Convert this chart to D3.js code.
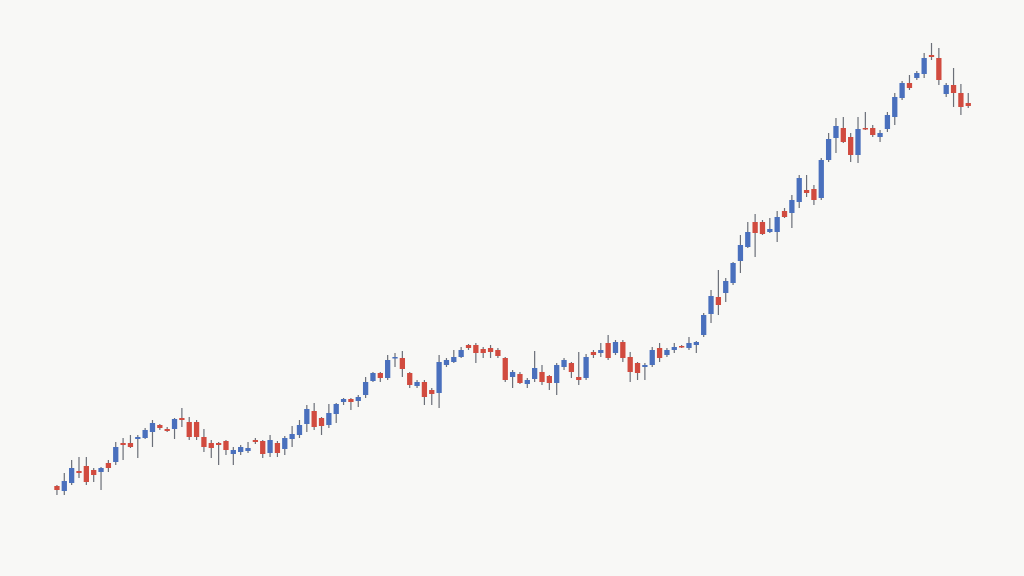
<!DOCTYPE html>
<html><head><meta charset="utf-8">
<script src="https://cdn.jsdelivr.net/npm/d3@7"></script>
<style>html,body{margin:0;padding:0;background:#f8f8f6;}svg{display:block;}</style>
</head><body>
<svg id="chart" width="1024" height="576"></svg>
<script>
const opens  = [37,34.5,38.5,44.5,47,45,44,48.5,49,58.5,58.5,60.5,61,64,67.5,65.5,65.5,71,69,69,61.5,58.5,58.5,59.5,53,54,54.5,60,59.5,53.5,58.5,55.5,60.5,62.5,68,74.5,71,67.5,73,79,80.5,79.5,82.5,89.5,93.5,91,101,101,93.5,87,89,85,83.5,97.5,99,101.5,107.5,107.5,105.5,106,105,101,91.5,93,88,90.5,94,92,88.5,96.5,98.5,91.5,91,104,103.5,108.5,103.5,109,101.5,98.5,96.5,97.5,106,102.5,105,107,106,107.5,112.5,123,131.5,133.5,138.5,149.5,156.5,169,169,164,164,174.5,173.5,179,185,185.5,181,200,211,216,211.5,202.5,216,216,211.5,215.5,221.5,231,238.5,241,243,252.5,251,233,237.5,233.5,228.5];
const closes = [35,39.5,46,43.5,39,42.5,46,46,56.5,57.5,56.5,61.5,65,68.5,66,64.5,70.5,70,61.5,61.5,56.5,56,57.5,55,55,56.5,56,59,53,60,53.5,61,63,67.5,75.5,66.5,67,73.5,78,80.5,79,81.5,89,93.5,91,100,101.5,95.5,87.5,89,81.5,83,99,100,101.5,105,106,103.5,103.5,104,102,90,94,88.5,90,96,89,88.5,97.5,100,94,90,101.5,102.5,105,101,109,101,94,93.5,97.5,105,101,105,106.5,106.5,108.5,109,122.5,132,127.5,139.5,148.5,157.5,164,163.5,163,165.5,171.5,171.5,180,191,183.5,180,200,210.5,217,209,202.5,215.5,215.5,212.5,213.5,222.5,231.5,238.5,236,243.5,251,251.5,240,237.5,233.5,226.5,227];
const highs  = [37.5,43.5,50,51.5,51.5,46,46.5,50,59,61,62.5,62.5,66,70,68,66.5,71,76,71.5,70,65.5,60,59,60,56.5,57.5,59,61,60,62.5,59.5,62,67,70,77.5,78.5,71.5,78,78.5,81,81,82.5,91.5,94,94,102.5,103.5,104.5,94,90,90,86,102.5,101,105,106.5,108,108.5,106.5,107.5,106,101.5,95,94,91,104.5,97.5,92.5,98.5,101,99,104,103,105,108.5,112.5,110,110,104,99,98.5,106.5,108.5,106,108.5,107.5,111.5,109.5,123.5,135,145,141,149,162.5,169,173,170,171,174.5,176,182.5,192.5,192.5,187.5,201,213.5,221,221.5,213.5,221.5,224,217.5,215,224,233.5,239.5,242.5,244.5,253.5,258.5,256,238.5,246,238,233.5];
const lows   = [32.5,32.5,37.5,41,37.5,39,35,44,47.5,50,56,51,60.5,56.5,65,64,60.5,66.5,60,60,54,51,47.5,52.5,47.5,52.5,53.5,58,51,51.5,51.5,52.5,56.5,61,64,65,62.5,66,68.5,77.5,75,76.5,81,89,89,90,96.5,91.5,86,86,77.5,77.5,76,96.5,98.5,101,105,98.5,101,101,101,89,86,88,86,89,87.5,85,82.5,95,91,87.5,90,101,101.5,100,102.5,99,89,90,90,96.5,99,101.5,103.5,106,105,103.5,111.5,118.5,122.5,129,137.5,143.5,156,151.5,162.5,163.5,159,171,166,176,181.5,177.5,180,199,203.5,208.5,199,198.5,215,211.5,209,214,217.5,230,235,240,241,250,237.5,231.5,226.5,222.5,226];

const idx = d3.range(opens.length);
const data = idx.map(i => ({i, o: opens[i], c: closes[i], h: highs[i], l: lows[i]}));

const svg = d3.select("#chart");
svg.append("rect").attr("width",1024).attr("height",576).attr("fill","#f8f8f6");

const x = d3.scaleBand().domain(idx).range([54.3, 970.9]).paddingInner(0.28);
const y = d3.scaleLinear().domain([0, 280]).range([560, 0]);

const blue = "#4a70bd", red = "#d14b3f";
const g = svg.append("g");

g.selectAll("line.wick").data(data).join("line")
  .attr("class","wick")
  .attr("x1", d => x(d.i) + x.bandwidth()/2)
  .attr("x2", d => x(d.i) + x.bandwidth()/2)
  .attr("y1", d => y(d.h))
  .attr("y2", d => y(d.l))
  .attr("stroke", "#6b6f78")
  .attr("stroke-width", 1.2);

g.selectAll("rect.body").data(data).join("rect")
  .attr("class","body")
  .attr("x", d => x(d.i))
  .attr("width", x.bandwidth())
  .attr("y", d => y(Math.max(d.o, d.c)))
  .attr("height", d => Math.max(1.5, Math.abs(y(d.o) - y(d.c))))
  .attr("fill", d => d.c >= d.o ? blue : red);
</script>
</body></html>
